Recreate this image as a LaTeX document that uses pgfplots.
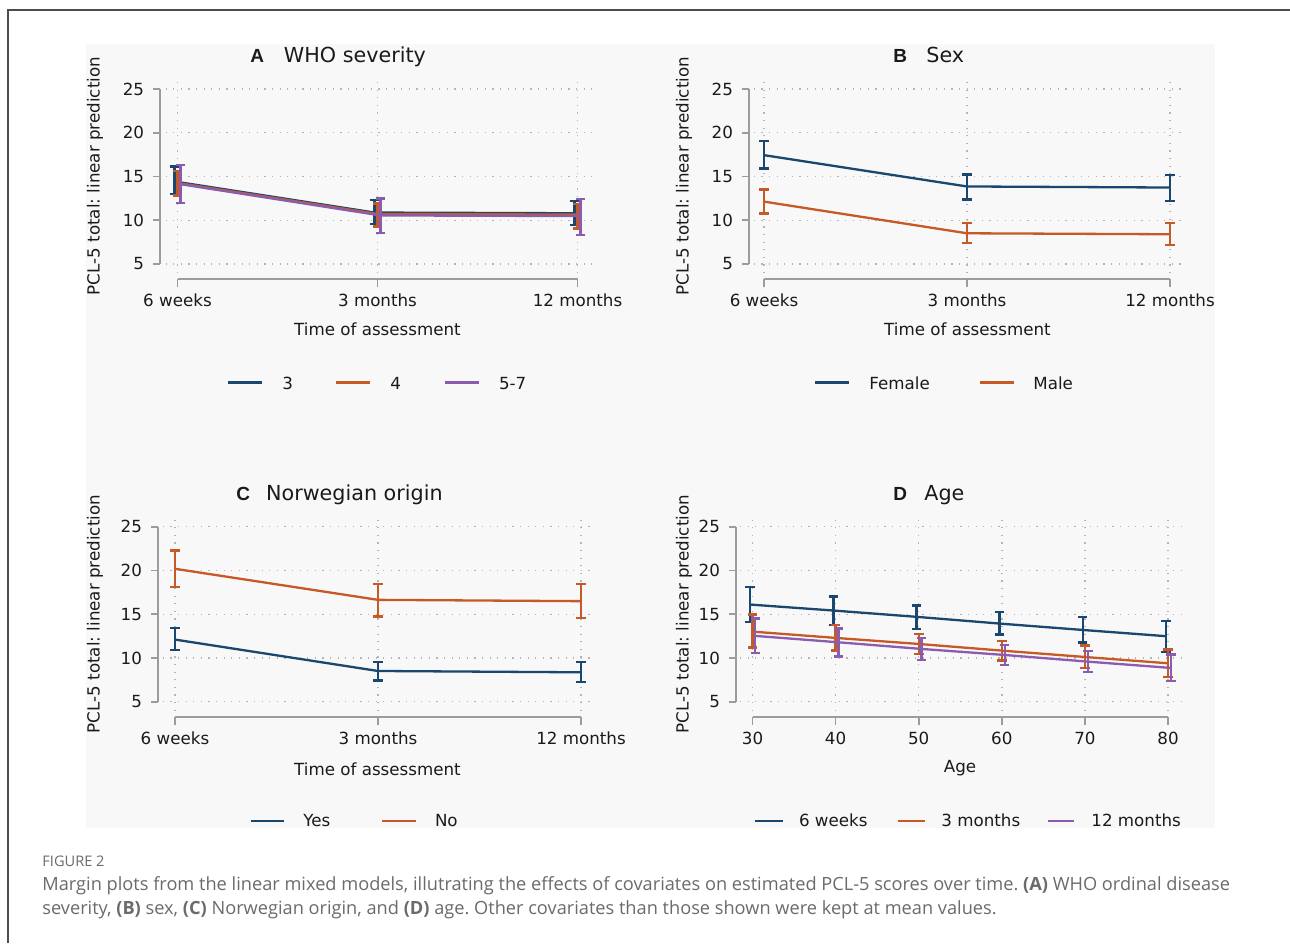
\documentclass[border=0pt]{standalone}
\usepackage{pgfplots}
\pgfplotsset{compat=1.18}
\usepackage{fontspec}
\setmainfont{DejaVu Sans}
\newfontfamily\labfont{Liberation Sans}
\newfontfamily\capfont{Open Sans}
\frenchspacing
\definecolor{sblue}{HTML}{1A476F}
\definecolor{sorange}{HTML}{C65A26}
\definecolor{spurple}{HTML}{8B5BB0}
\definecolor{axgray}{HTML}{9C9C9C}
\definecolor{griddot}{HTML}{B4B4B4}
\definecolor{bggray}{HTML}{F8F8F8}
\definecolor{txt}{HTML}{1A1A1A}
\definecolor{capgray}{HTML}{6B6B6B}
\newcommand\tf{\fontsize{8.35}{10}\selectfont}
\pgfplotsset{
  panel/.style={
    anchor=south west,
    axis line style={draw=none},
    major tick length=0pt,
    xticklabels={}, yticklabels={},
    ytick={5,10,15,20,25},
    grid=major,
    major grid style={griddot, line width=0.7pt, dash pattern=on 0.6pt off 3.2pt},
    clip=false,
    ymin=3.95, ymax=26,
    y=4.375pt,
  },
  eb/.style={line width=1.15pt, mark=none,
    error bars/y dir=both,
    error bars/y explicit,
    error bars/error bar style={line width=1.15pt},
    error bars/error mark options={rotate=90, line width=1.15pt, mark size=2.4pt}},
}
\tikzset{axl/.style={axgray, line width=0.85pt},
  tl/.style={font=\tf, text=txt, inner sep=0pt}}
\begin{document}
\begin{tikzpicture}
\useasboundingbox (0,0) rectangle (645pt,471.5pt);
\begin{scope}[x=0.5pt,y=-0.5pt,yshift=471.5pt]
  \fill[white] (0,0) rectangle (1290,943);
  \draw[black!70, line width=0.8pt] (8,943) -- (8,10) -- (1290,10);
  \fill[bggray] (86,44) rectangle (1215,828);
\end{scope}

% ---------------- Panel A ----------------
\begin{axis}[panel, at={(82.75pt,334.905pt)}, x=100pt, xmin=-0.06, xmax=2.07, xtick={0,1,2}]
\addplot[sblue, eb] coordinates {(-0.015,14.43) += (0,1.71) -= (0,1.43)
  (0.985,10.88) += (0,1.41) -= (0,1.30) (1.985,10.80) += (0,1.41) -= (0,1.33)};
\addplot[sorange, eb] coordinates {(0,14.26) += (0,1.39) -= (0,1.43)
  (1,10.72) += (0,1.18) -= (0,1.44) (2,10.65) += (0,1.18) -= (0,1.60)};
\addplot[spurple, eb] coordinates {(0.015,14.12) += (0,2.18) -= (0,2.17)
  (1.015,10.55) += (0,1.93) -= (0,2.04) (2.015,10.48) += (0,1.96) -= (0,2.19)};
\draw[axl] (axis cs:-0.0875,5) -- (axis cs:-0.0875,25);
\pgfplotsinvokeforeach{5,10,15,20,25}{
  \draw[axl] (axis cs:-0.0875,#1) -- ++(-3.6pt,0pt);
  \node[tl, anchor=east, xshift=-7.8pt] at (axis cs:-0.0875,#1) {#1};}
\draw[axl] (axis cs:0,3.27) -- (axis cs:2,3.27);
\pgfplotsinvokeforeach{0,1,2}{\draw[axl] (axis cs:#1,3.27) -- ++(0pt,-4pt);}
\node[tl, anchor=base, yshift=-13.7pt] at (axis cs:0,3.27) {6 weeks};
\node[tl, anchor=base, yshift=-13.7pt] at (axis cs:1,3.27) {3 months};
\node[tl, anchor=base, yshift=-13.7pt] at (axis cs:2,3.27) {12 months};
\end{axis}

% ---------------- Panel B ----------------
\begin{axis}[panel, at={(376.925pt,334.905pt)}, x=101.5pt, xmin=-0.05, xmax=2.06, xtick={0,1,2}]
\addplot[sblue, eb] coordinates {(0,17.44) += (0,1.64) -= (0,1.53)
  (1,13.86) += (0,1.37) -= (0,1.49) (2,13.74) += (0,1.45) -= (0,1.52)};
\addplot[sorange, eb] coordinates {(0,12.13) += (0,1.37) -= (0,1.37)
  (1,8.51) += (0,1.15) -= (0,1.10) (2,8.40) += (0,1.26) -= (0,1.22)};
\draw[axl] (axis cs:-0.074,5) -- (axis cs:-0.074,25);
\pgfplotsinvokeforeach{5,10,15,20,25}{
  \draw[axl] (axis cs:-0.074,#1) -- ++(-3.6pt,0pt);
  \node[tl, anchor=east, xshift=-7.8pt] at (axis cs:-0.074,#1) {#1};}
\draw[axl] (axis cs:0,3.27) -- (axis cs:2,3.27);
\pgfplotsinvokeforeach{0,1,2}{\draw[axl] (axis cs:#1,3.27) -- ++(0pt,-4pt);}
\node[tl, anchor=base, yshift=-13.7pt] at (axis cs:0,3.27) {6 weeks};
\node[tl, anchor=base, yshift=-13.7pt] at (axis cs:1,3.27) {3 months};
\node[tl, anchor=base, yshift=-13.7pt] at (axis cs:2,3.27) {12 months};
\end{axis}

% ---------------- Panel C ----------------
\begin{axis}[panel, at={(81.41pt,116.055pt)}, x=101.5pt, xmin=-0.06, xmax=2.07, xtick={0,1,2}]
\addplot[sblue, eb] coordinates {(0,12.10) += (0,1.29) -= (0,1.22)
  (1,8.51) += (0,1.03) -= (0,1.10) (2,8.36) += (0,1.14) -= (0,1.10)};
\addplot[sorange, eb] coordinates {(0,20.19) += (0,2.10) -= (0,2.06)
  (1,16.64) += (0,1.83) -= (0,1.91) (2,16.49) += (0,1.94) -= (0,1.91)};
\draw[axl] (axis cs:-0.084,5) -- (axis cs:-0.084,25);
\pgfplotsinvokeforeach{5,10,15,20,25}{
  \draw[axl] (axis cs:-0.084,#1) -- ++(-3.6pt,0pt);
  \node[tl, anchor=east, xshift=-7.8pt] at (axis cs:-0.084,#1) {#1};}
\draw[axl] (axis cs:0,3.27) -- (axis cs:2,3.27);
\pgfplotsinvokeforeach{0,1,2}{\draw[axl] (axis cs:#1,3.27) -- ++(0pt,-4pt);}
\node[tl, anchor=base, yshift=-13.7pt] at (axis cs:0,3.27) {6 weeks};
\node[tl, anchor=base, yshift=-13.7pt] at (axis cs:1,3.27) {3 months};
\node[tl, anchor=base, yshift=-13.7pt] at (axis cs:2,3.27) {12 months};
\end{axis}

% ---------------- Panel D ----------------
\begin{axis}[panel, at={(370.025pt,116.055pt)}, x=4.155pt, xmin=28.5, xmax=81.9, xtick={30,40,50,60,70,80}]
\addplot[sblue, eb] coordinates {(29.73,16.10) += (0,2.02) -= (0,1.98)
  (39.73,15.42) += (0,1.60) -= (0,1.68) (49.73,14.70) += (0,1.29) -= (0,1.38)
  (59.73,13.93) += (0,1.30) -= (0,1.25) (69.73,13.20) += (0,1.46) -= (0,1.44)
  (79.73,12.49) += (0,1.71) -= (0,1.79)};
\addplot[sorange, eb] coordinates {(30,13.01) += (0,1.95) -= (0,1.83)
  (40,12.29) += (0,1.49) -= (0,1.45) (50,11.60) += (0,1.14) -= (0,1.14)
  (60,10.84) += (0,1.10) -= (0,1.14) (70,10.11) += (0,1.30) -= (0,1.25)
  (80,9.39) += (0,1.56) -= (0,1.56)};
\addplot[spurple, eb] coordinates {(30.34,12.52) += (0,1.98) -= (0,1.99)
  (40.34,11.79) += (0,1.57) -= (0,1.64) (50.34,11.03) += (0,1.26) -= (0,1.26)
  (60.34,10.34) += (0,1.15) -= (0,1.18) (70.34,9.58) += (0,1.22) -= (0,1.22)
  (80.34,8.86) += (0,1.52) -= (0,1.53)};
\draw[axl] (axis cs:28.01,5) -- (axis cs:28.01,25);
\pgfplotsinvokeforeach{5,10,15,20,25}{
  \draw[axl] (axis cs:28.01,#1) -- ++(-3.6pt,0pt);
  \node[tl, anchor=east, xshift=-7.8pt] at (axis cs:28.01,#1) {#1};}
\draw[axl] (axis cs:30,3.27) -- (axis cs:80,3.27);
\pgfplotsinvokeforeach{30,40,50,60,70,80}{
  \draw[axl] (axis cs:#1,3.27) -- ++(0pt,-4pt);
  \node[tl, anchor=base, yshift=-13.7pt] at (axis cs:#1,3.27) {#1};}
\end{axis}

\begin{scope}[x=0.5pt,y=-0.5pt,yshift=471.5pt]
  % titles
  \node[anchor=base west, inner sep=0, text=txt, font=\labfont\bfseries\fontsize{9.5}{11}\selectfont] at (250,63) {A};
  \node[anchor=base west, inner sep=0, text=txt, font=\fontsize{10.35}{12}\selectfont] at (283.5,63) {WHO severity};
  \node[anchor=base west, inner sep=0, text=txt, font=\labfont\bfseries\fontsize{9.5}{11}\selectfont] at (893,63) {B};
  \node[anchor=base west, inner sep=0, text=txt, font=\fontsize{10.35}{12}\selectfont] at (926,63) {Sex};
  \node[anchor=base west, inner sep=0, text=txt, font=\labfont\bfseries\fontsize{9.5}{11}\selectfont] at (236,501) {C};
  \node[anchor=base west, inner sep=0, text=txt, font=\fontsize{10.35}{12}\selectfont] at (265.7,501) {Norwegian origin};
  \node[anchor=base west, inner sep=0, text=txt, font=\labfont\bfseries\fontsize{9.5}{11}\selectfont] at (893,501) {D};
  \node[anchor=base west, inner sep=0, text=txt, font=\fontsize{10.35}{12}\selectfont] at (924,501) {Age};
  % y labels
  \node[tl, rotate=90] at (95,176) {PCL-5 total: linear prediction};
  \node[tl, rotate=90] at (684,176) {PCL-5 total: linear prediction};
  \node[tl, rotate=90] at (95,614) {PCL-5 total: linear prediction};
  \node[tl, rotate=90] at (684,614) {PCL-5 total: linear prediction};
  % x labels
  \node[tl, anchor=base] at (377.5,336) {Time of assessment};
  \node[tl, anchor=base] at (967.5,336) {Time of assessment};
  \node[tl, anchor=base] at (377.5,775) {Time of assessment};
  \node[tl, anchor=base] at (960,772) {Age};
  % legends top
  \draw[sblue, line width=1.15pt] (228,382.5) -- (262,382.5);
  \node[tl, anchor=base west] at (282,390) {3};
  \draw[sorange, line width=1.15pt] (336,382.5) -- (370,382.5);
  \node[tl, anchor=base west] at (390,390) {4};
  \draw[spurple, line width=1.15pt] (445,382.5) -- (479,382.5);
  \node[tl, anchor=base west] at (498.6,390) {5-7};
  \draw[sblue, line width=1.15pt] (815,382.5) -- (849,382.5);
  \node[tl, anchor=base west] at (869,390) {Female};
  \draw[sorange, line width=1.15pt] (980,382.5) -- (1014,382.5);
  \node[tl, anchor=base west] at (1033,390) {Male};
  % legends bottom (clipped)
  \begin{scope}
    \clip (86,44) rectangle (1215,828);
    \draw[sblue, line width=1.15pt] (250.7,820.7) -- (284,820.7);
    \node[tl, anchor=base west] at (303,826.7) {Yes};
    \draw[sorange, line width=1.15pt] (382,820.7) -- (416,820.7);
    \node[tl, anchor=base west] at (434.6,826.7) {No};
    \draw[sblue, line width=1.15pt] (754.6,820.7) -- (782.5,820.7);
    \node[tl, anchor=base west] at (798.6,826.7) {6 weeks};
    \draw[sorange, line width=1.15pt] (897.5,820.7) -- (925,820.7);
    \node[tl, anchor=base west] at (941,826.7) {3 months};
    \draw[spurple, line width=1.15pt] (1047.5,820.7) -- (1074,820.7);
    \node[tl, anchor=base west] at (1091,826.7) {12 months};
  \end{scope}
  % caption
  \node[anchor=base west, inner sep=0, text=capgray, font=\capfont\fontsize{7.3}{8}\selectfont] at (42,866) {FIGURE 2};
  \node[anchor=base west, inner sep=0, text=capgray, font=\capfont\fontsize{9.1}{11}\selectfont] at (42,890) {Margin plots from the linear mixed models, illutrating the effects of covariates on estimated PCL-5 scores over time. \textbf{(A)} WHO ordinal disease};
  \node[anchor=base west, inner sep=0, text=capgray, font=\capfont\fontsize{9.1}{11}\selectfont] at (42,914) {severity, \textbf{(B)} sex, \textbf{(C)} Norwegian origin, and \textbf{(D)} age. Other covariates than those shown were kept at mean values.};
\end{scope}
\end{tikzpicture}
\end{document}
